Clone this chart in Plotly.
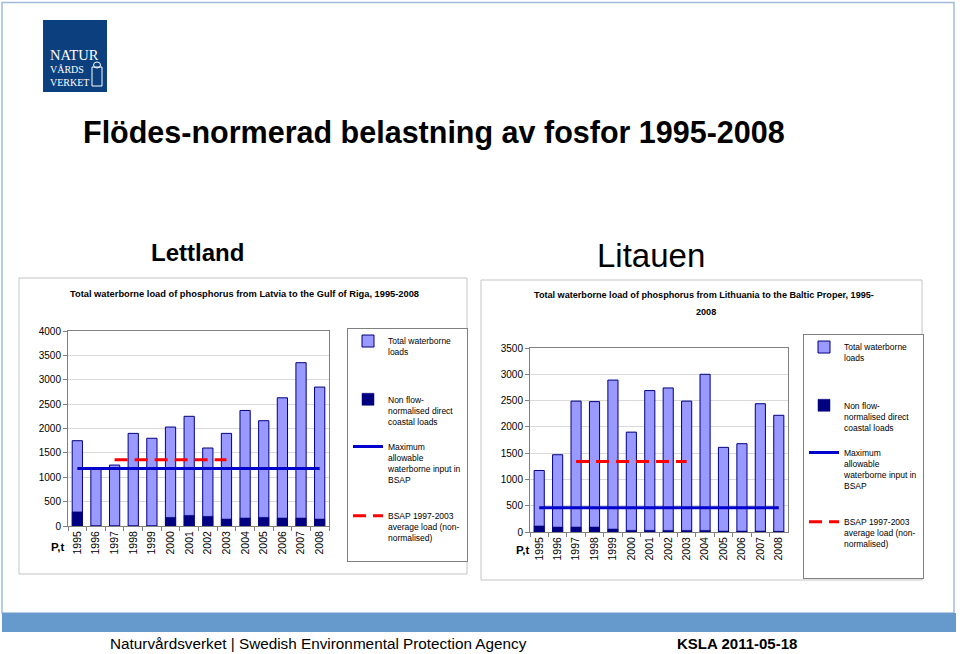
import plotly.graph_objects as go

# ---------------- data ----------------
YEARS = ["1995", "1996", "1997", "1998", "1999", "2000", "2001",
         "2002", "2003", "2004", "2005", "2006", "2007", "2008"]
BSAP_YEARS = ["1997", "1998", "1999", "2000", "2001", "2002", "2003"]

# Latvia -> Gulf of Riga (P, t)
LV_TOTAL = [1750, 1180, 1250, 1900, 1800, 2030, 2250, 1600, 1900, 2370, 2160, 2630, 3350, 2850]
LV_DIRECT = [290, 0, 0, 0, 0, 177, 218, 198, 143, 164, 177, 164, 164, 143]
LV_MAX = 1180
LV_AVG = 1360

# Lithuania -> Baltic Proper (P, t)
LT_TOTAL = [1170, 1470, 2490, 2480, 2890, 1900, 2690, 2740, 2490, 3000, 1610, 1680, 2440, 2220]
LT_DIRECT = [115, 95, 95, 95, 57, 32, 32, 30, 30, 30, 19, 19, 19, 13]
LT_MAX = 460
LT_AVG = 1340

LEGEND_NAMES = [
    "Total waterborne<br>loads<br> <br> <br> ",
    "Non flow-<br>normalised direct<br>coastal loads<br> ",
    "Maximum<br>allowable<br>waterborne input in<br>BSAP<br> <br> ",
    "BSAP 1997-2003<br>average load (non-<br>normalised)",
]

MAIN_TITLE = "Flödes-normerad belastning av fosfor 1995-2008"
LEFT_TITLE = "Lettland"
RIGHT_TITLE = "Litauen"
LEFT_SUB = "Total waterborne load of phosphorus from Latvia to the Gulf of Riga, 1995-2008"
RIGHT_SUB_1 = "Total waterborne load of phosphorus from Lithuania to the Baltic Proper, 1995-"
RIGHT_SUB_2 = "2008"
FOOT_LEFT = "Naturvårdsverket | Swedish Environmental Protection Agency"
FOOT_RIGHT = "KSLA 2011-05-18"
UNIT = "P,t"
LOGO_TOP = "NATUR"
LOGO_REST = "VÅRDS<br>VERKET"

# ---------------- styling ----------------
W, H = 960, 654
SANS = "Liberation Sans, Arial, sans-serif"
SERIF = "Liberation Serif, DejaVu Serif, serif"
LIGHT = "#9999FF"
NAVY = "#000080"
BLUE = "#0000CC"
RED = "#FF0000"


def px(x):
    return x / W


def py(y):
    return 1 - y / H


fig = go.Figure()


def add_chart(total, direct, vmax, vavg, xa, ya, legend, tail=""):
    names = LEGEND_NAMES[:3] + [LEGEND_NAMES[3] + tail]
    fig.add_trace(go.Bar(x=YEARS, y=total, name=names[0],
                         marker=dict(color=LIGHT, line=dict(color=NAVY, width=1)),
                         xaxis=xa, yaxis=ya, legend=legend))
    fig.add_trace(go.Bar(x=YEARS, y=direct, name=names[1],
                         marker=dict(color=NAVY, line=dict(color=NAVY, width=0.5)),
                         xaxis=xa, yaxis=ya, legend=legend))
    fig.add_trace(go.Scatter(x=YEARS, y=[vmax] * len(YEARS), name=names[2],
                             mode="lines", line=dict(color=BLUE, width=3),
                             xaxis=xa, yaxis=ya, legend=legend))
    fig.add_trace(go.Scatter(x=BSAP_YEARS, y=[vavg] * len(BSAP_YEARS), name=names[3],
                             mode="lines", line=dict(color=RED, width=3, dash="13px,7px"),
                             xaxis=xa, yaxis=ya, legend=legend))


add_chart(LV_TOTAL, LV_DIRECT, LV_MAX, LV_AVG, "x", "y", "legend", tail="<br> ")
add_chart(LT_TOTAL, LT_DIRECT, LT_MAX, LT_AVG, "x2", "y2", "legend2", tail="<br> <br> ")

xaxis_common = dict(type="category", categoryorder="array", categoryarray=YEARS,
                    tickangle=-90, tickfont=dict(family=SANS, size=10.5, color="black"),
                    ticks="outside", tickson="boundaries", ticklen=4, tickcolor="#808080",
                    showline=True, linecolor="#808080", linewidth=1, mirror=True,
                    showgrid=False, zeroline=False, fixedrange=True, automargin=False)
yaxis_common = dict(tickfont=dict(family=SANS, size=10, color="black"), dtick=500,
                    ticks="outside", ticklen=4, tickcolor="#808080",
                    showline=True, linecolor="#808080", linewidth=1, mirror=True,
                    showgrid=True, gridcolor="#D9D9D9", gridwidth=1, zeroline=False,
                    fixedrange=True, automargin=False)

legend_common = dict(xanchor="left", yanchor="top", bgcolor="white",
                     bordercolor="#808080", borderwidth=1, valign="top",
                     font=dict(family=SANS, size=8.5, color="black"),
                     itemwidth=30, tracegroupgap=0, traceorder="normal",
                     itemclick=False, itemdoubleclick=False)

shapes = [
    # slide border
    dict(type="rect", xref="paper", yref="paper", x0=px(2), x1=px(954), y0=py(613), y1=py(2.5),
         line=dict(color="#9FBBDB", width=1.5), fillcolor="rgba(0,0,0,0)", layer="below"),
    # footer blue band
    dict(type="rect", xref="paper", yref="paper", x0=px(2), x1=px(956), y0=py(632), y1=py(613),
         line=dict(width=0), fillcolor="#6699CC", layer="below"),
    # chart frames
    dict(type="rect", xref="paper", yref="paper", x0=px(19), x1=px(467), y0=py(574), y1=py(278),
         line=dict(color="#C4C4C4", width=1), fillcolor="white", layer="below"),
    dict(type="rect", xref="paper", yref="paper", x0=px(481), x1=px(922), y0=py(580), y1=py(280),
         line=dict(color="#C4C4C4", width=1), fillcolor="white", layer="below"),
    # logo square
    dict(type="rect", xref="paper", yref="paper", x0=px(43), x1=px(107), y0=py(92), y1=py(20),
         line=dict(width=0), fillcolor="#0B3F7E", layer="below"),
    # logo crest
    dict(type="rect", xref="paper", yref="paper", x0=px(92), x1=px(102), y0=py(86), y1=py(67),
         line=dict(color="white", width=1), fillcolor="rgba(0,0,0,0)"),
    dict(type="circle", xref="paper", yref="paper", x0=px(93.5), x1=px(100.5), y0=py(68), y1=py(62),
         line=dict(color="white", width=1), fillcolor="rgba(0,0,0,0)"),
]


def ann(text, x, y, size, family=SANS, bold=False, color="black", xanchor="center"):
    t = f"<b>{text}</b>" if bold else text
    return dict(text=t, x=px(x), y=py(y), xref="paper", yref="paper", showarrow=False,
                xanchor=xanchor, yanchor="middle", font=dict(family=family, size=size, color=color))


annotations = [
    ann(MAIN_TITLE, 81, 132, 30.5, bold=True, xanchor="left"),
    ann(LEFT_TITLE, 197, 252, 24, bold=True),
    ann(RIGHT_TITLE, 651, 256, 33),
    ann(LEFT_SUB, 244, 294, 9.3, bold=True),
    ann(RIGHT_SUB_1, 704, 295, 9.1, bold=True),
    ann(RIGHT_SUB_2, 706, 312, 9.1, bold=True),
    ann(UNIT, 57, 547, 11.5, bold=True),
    ann(UNIT, 522, 550, 11.5, bold=True),
    ann(FOOT_LEFT, 318, 643, 15.3),
    ann(FOOT_RIGHT, 737, 643, 15, bold=True),
    # logo words
    ann(LOGO_TOP, 48, 55, 14.5, family=SERIF, color="white", xanchor="left"),
    dict(text=LOGO_REST, x=px(48), y=py(76), xref="paper", yref="paper", showarrow=False,
         xanchor="left", yanchor="middle", align="left",
         font=dict(family=SERIF, size=10, color="white")),
]

fig.update_layout(
    width=W, height=H, margin=dict(l=0, r=0, t=0, b=0, pad=0, autoexpand=False),
    paper_bgcolor="white", plot_bgcolor="white",
    barmode="overlay", bargap=0.45,
    xaxis=dict(domain=[px(68), px(329)], anchor="y", **xaxis_common),
    yaxis=dict(domain=[py(526), py(331)], anchor="x", range=[0, 4000], **yaxis_common),
    xaxis2=dict(domain=[px(530), px(788)], anchor="y2", **xaxis_common),
    yaxis2=dict(domain=[py(532), py(348)], anchor="x2", range=[0, 3500], **yaxis_common),
    legend=dict(x=px(347), y=py(328), **legend_common),
    legend2=dict(x=px(803), y=py(334), **legend_common),
    shapes=shapes, annotations=annotations, showlegend=True,
)

fig.write_html(
    "out.html",
    config={"displayModeBar": False},
    post_script="document.body.style.margin='0';document.body.style.padding='0';"
                "document.body.style.overflow='hidden';",
)
